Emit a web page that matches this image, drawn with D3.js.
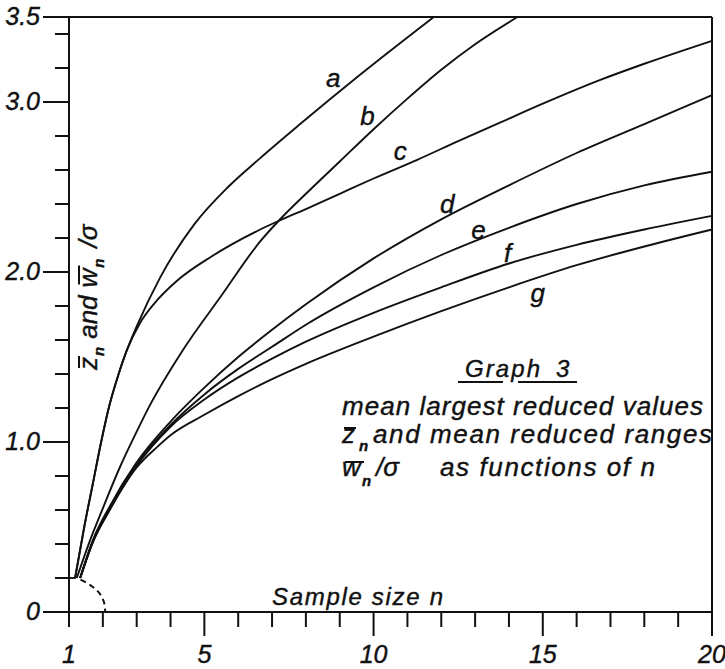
<!DOCTYPE html>
<html>
<head>
<meta charset="utf-8">
<script src="https://d3js.org/d3.v7.min.js"></script>
<style>
  body { margin: 0; background: #fff; }
  svg text { font-family: "Liberation Sans", Arial, sans-serif; font-style: italic; fill: #111;
             stroke: #111; stroke-width: 0.4px; }
</style>
</head>
<body>
<svg id="chart" width="725" height="669"></svg>
<script>
// values: sample size n and reduced value
const nA = [1.18, 1.45, 1.7, 1.95, 2.2, 2.45, 2.71, 3.0, 3.7, 4.7, 5.7, 6.65, 7.83, 9.6, 11.78];
const vA = [0.2, 0.5, 0.75, 1.0, 1.22, 1.39, 1.54, 1.68, 1.97, 2.28, 2.5, 2.67, 2.87, 3.16, 3.5];

const nB = [1.23, 1.6, 2.0, 2.5, 2.9, 3.4, 4.33, 5.5, 6.65, 7.19, 8.0, 9.0, 10.0, 11.0, 12.0, 13.0, 14.25];
const vB = [0.2, 0.41, 0.61, 0.85, 1.02, 1.22, 1.53, 1.86, 2.18, 2.3, 2.46, 2.65, 2.84, 3.02, 3.19, 3.34, 3.5];

const nC = [1.18, 1.45, 1.7, 1.95, 2.2, 2.45, 2.71, 3.1, 3.5, 4.2, 5.2, 6.65, 7.19, 8.0, 9.0, 10.0, 11.29, 12.5, 13.75, 15.0, 16.7, 18.0, 20];
const vC = [0.2, 0.5, 0.75, 1.0, 1.22, 1.39, 1.54, 1.7, 1.81, 1.95, 2.09, 2.25, 2.3, 2.37, 2.46, 2.55, 2.66, 2.77, 2.88, 2.99, 3.13, 3.225, 3.36];

const nDF = [1.33, 1.7, 2.2, 3.0, 4.0, 5.0, 6.0, 7.0, 8.0, 10.0, 12.0, 14.0, 16.0, 18.0, 20];
const vD = [0.2, 0.42, 0.62, 0.88, 1.12, 1.32, 1.5, 1.66, 1.81, 2.08, 2.31, 2.51, 2.7, 2.87, 3.04];
const vE = [0.2, 0.41, 0.61, 0.87, 1.1, 1.28, 1.43, 1.56, 1.69, 1.91, 2.1, 2.26, 2.4, 2.51, 2.59];
const vF = [0.2, 0.41, 0.6, 0.86, 1.09, 1.25, 1.38, 1.49, 1.59, 1.76, 1.91, 2.05, 2.16, 2.25, 2.33];

const nG = [1.33, 1.7, 2.2, 3.0, 3.6, 4.0, 5.0, 6.0, 7.0, 8.0, 10.0, 12.0, 14.0, 16.0, 18.0, 20];
const vG = [0.2, 0.41, 0.6, 0.85, 0.97, 1.04, 1.16, 1.27, 1.37, 1.46, 1.62, 1.77, 1.91, 2.04, 2.15, 2.25];

// dashed arc near the origin and the little stub at 0.2
const dashN = [1.34, 1.64, 1.88, 2.03, 2.07];
const dashV = [0.19, 0.157, 0.115, 0.06, 0];
const stubN = [1, 1.2];
const stubV = [0.2, 0.2];

const curveKeys = ["a", "b", "c", "d", "e", "f", "g"];
const labelN = [8.81, 9.82, 10.79, 12.18, 13.1, 13.96, 14.85];
const labelV = [3.14, 2.92, 2.71, 2.4, 2.25, 2.11, 1.88];

const xMajor = [5, 10, 15, 20];
const xMinor = [1, 2, 3, 4, 6, 7, 8, 9, 11, 12, 13, 14, 16, 17, 18, 19];
const xLabels = [1, 5, 10, 15, 20];
const yMajor = [0, 1, 2, 3, 3.5];
const yMajorLabels = ["0", "1.0", "2.0", "3.0", "3.5"];
const yMinor = [0.2, 0.4, 0.6, 0.8, 1.2, 1.4, 1.6, 1.8, 2.2, 2.4, 2.6, 2.8, 3.2, 3.4];

const ink = "#111";
const svg = d3.select("#chart");
const x = d3.scaleLinear().domain([1, 20]).range([69, 712]);
const y = d3.scaleLinear().domain([0, 3.5]).range([612, 17]);

function styleAxis(g, size) {
  g.attr("font-size", size).attr("font-family", null);
  g.selectAll("path, line").attr("stroke", ink).attr("stroke-width", 2);
  g.selectAll("text").attr("fill", ink);
}

// y axis: minor + major ticks
svg.append("g").attr("transform", `translate(${x(1)},0)`)
  .call(d3.axisLeft(y).tickValues(yMinor).tickSize(14).tickSizeOuter(0).tickFormat("").offset(0))
  .call(g => styleAxis(g, 25));
svg.append("g").attr("transform", `translate(${x(1)},0)`)
  .call(d3.axisLeft(y).tickValues(yMajor).tickSize(26).tickSizeOuter(0).tickPadding(3)
    .tickFormat((d, i) => yMajorLabels[i]).offset(0))
  .call(g => styleAxis(g, 25));

// x axis
svg.append("g").attr("transform", `translate(0,${y(0)})`)
  .call(d3.axisBottom(x).tickValues(xMinor).tickSize(15).tickSizeOuter(0).tickFormat("").offset(0))
  .call(g => styleAxis(g, 25));
svg.append("g").attr("transform", `translate(0,${y(0)})`)
  .call(d3.axisBottom(x).tickValues(xMajor).tickSize(24).tickSizeOuter(0).tickFormat("").offset(0))
  .call(g => styleAxis(g, 25));
svg.append("g").attr("transform", `translate(0,${y(0)})`)
  .call(d3.axisBottom(x).tickValues(xLabels).tickSize(0).tickSizeOuter(0).tickPadding(33).offset(0))
  .call(g => { styleAxis(g, 25); g.select(".domain").remove(); });

// frame top and right
svg.append("g").attr("transform", `translate(0,${y(3.5)})`)
  .call(d3.axisTop(x).tickValues([]).tickSizeOuter(0).offset(0))
  .call(g => styleAxis(g, 25));
svg.append("g").attr("transform", `translate(${x(20)},0)`)
  .call(d3.axisRight(y).tickValues([]).tickSizeOuter(0).offset(0))
  .call(g => styleAxis(g, 25));

// curves
const line = d3.line().x(d => x(d[0])).y(d => y(d[1])).curve(d3.curveMonotoneX);
const series = [
  d3.zip(nA, vA), d3.zip(nB, vB), d3.zip(nC, vC),
  d3.zip(nDF, vD), d3.zip(nDF, vE), d3.zip(nDF, vF), d3.zip(nG, vG)
];
svg.append("g").selectAll("path").data(series).join("path")
  .attr("d", line).attr("fill", "none").attr("stroke", ink).attr("stroke-width", 1.9);

svg.append("path").datum(d3.zip(stubN, stubV))
  .attr("d", d3.line().x(d => x(d[0])).y(d => y(d[1])))
  .attr("fill", "none").attr("stroke", ink).attr("stroke-width", 1.9);

svg.append("path").datum(d3.zip(dashN, dashV))
  .attr("d", d3.line().x(d => x(d[0])).y(d => y(d[1])).curve(d3.curveCatmullRom))
  .attr("fill", "none").attr("stroke", ink).attr("stroke-width", 2)
  .attr("stroke-dasharray", "6,4");

// curve letters
svg.append("g").selectAll("text").data(curveKeys).join("text")
  .attr("x", (d, i) => x(labelN[i])).attr("y", (d, i) => y(labelV[i]))
  .attr("dy", "0.35em").attr("text-anchor", "middle").attr("font-size", 26)
  .text(d => d);

// text helpers
function addText(g, str, px, py, size, opts = {}) {
  const t = g.append("text").attr("x", px).attr("y", py).attr("font-size", size).text(str);
  if (opts.len) t.attr("textLength", opts.len).attr("lengthAdjust", "spacing");
  if (opts.bold) t.attr("font-weight", "bold");
  return t;
}
function overline(g, t, py) {
  const b = t.node().getBBox();
  g.append("line").attr("x1", b.x + 3).attr("x2", b.x + b.width + 1)
    .attr("y1", py).attr("y2", py).attr("stroke", ink).attr("stroke-width", 2);
}
// lay pieces one after another along a baseline
function place(g, pieces, x0, y0) {
  let cx = x0;
  pieces.forEach(p => {
    cx += p.gap || 0;
    const t = addText(g, p.t, cx, y0 + (p.dy || 0), p.size, p);
    if (p.over) overline(g, t, y0 - p.over);
    cx += p.len || t.node().getComputedTextLength();
  });
}

// axis titles
addText(svg, "Sample size n", 272, 605, 24, { len: 171 });

const yt = svg.append("g").attr("transform", "translate(97,370) rotate(-90)");
place(yt, [
  { t: "z", size: 26, over: 18 },
  { t: "n", size: 15, bold: true, dy: 7, gap: 1 },
  { t: "and", size: 26, gap: 8 },
  { t: "w", size: 26, gap: 8, over: 18 },
  { t: "n", size: 15, bold: true, dy: 7, gap: 1 },
  { t: "/σ", size: 26, gap: 11 }
], 0, 0);

// caption block
const cap = svg.append("g");
addText(cap, "Graph", 465, 377, 24, { len: 75 });
addText(cap, "3", 556, 377, 24);
cap.append("line").attr("x1", 458).attr("x2", 503).attr("y1", 382).attr("y2", 382)
  .attr("stroke", ink).attr("stroke-width", 1.8);
cap.append("line").attr("x1", 518).attr("x2", 577).attr("y1", 382).attr("y2", 382)
  .attr("stroke", ink).attr("stroke-width", 1.8);

addText(cap, "mean largest reduced values", 342, 415, 26, { len: 361 });
overline(cap, addText(cap, "z", 342, 443, 26), 428);
addText(cap, "n", 359, 451, 15, { bold: true });
addText(cap, "and mean reduced ranges", 373, 443, 26, { len: 339 });
overline(cap, addText(cap, "w", 342, 476, 26), 462);
addText(cap, "n", 362, 486, 15, { bold: true });
addText(cap, "/σ", 376, 476, 26);
addText(cap, "as functions of n", 440, 476, 26, { len: 215 });
</script>
</body>
</html>
